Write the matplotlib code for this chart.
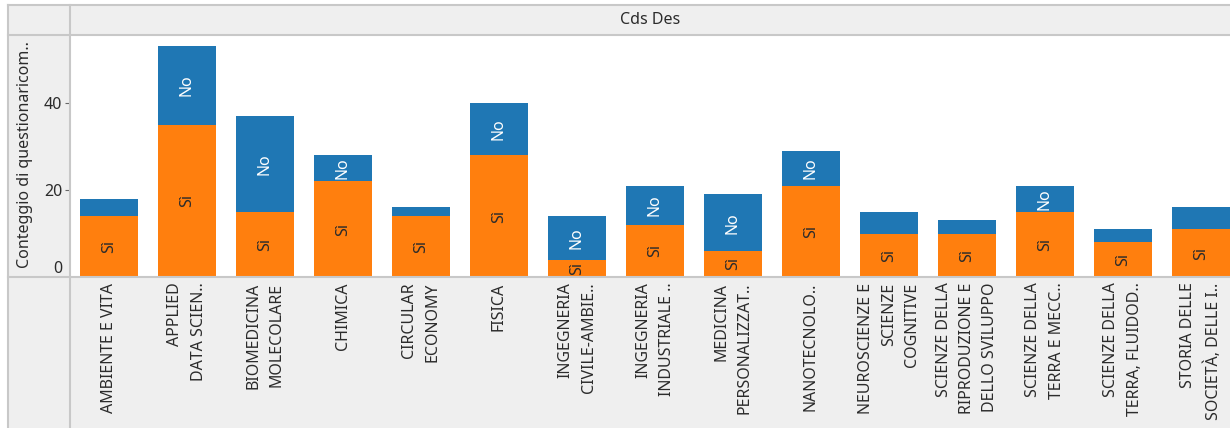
import matplotlib
matplotlib.use('Agg')
import matplotlib.pyplot as plt
from matplotlib.patches import Rectangle
from matplotlib.lines import Line2D

# dati: conteggio questionari per corso di studi, diviso tra Sì e No
corsi = [
    "AMBIENTE E VITA",
    "APPLIED\nDATA SCIEN..",
    "BIOMEDICINA\nMOLECOLARE",
    "CHIMICA",
    "CIRCULAR\nECONOMY",
    "FISICA",
    "INGEGNERIA\nCIVILE-AMBIE..",
    "INGEGNERIA\nINDUSTRIALE ..",
    "MEDICINA\nPERSONALIZZAT..",
    "NANOTECNOLO..",
    "NEUROSCIENZE E\nSCIENZE\nCOGNITIVE",
    "SCIENZE DELLA\nRIPRODUZIONE E\nDELLO SVILUPPO",
    "SCIENZE DELLA\nTERRA E MECC..",
    "SCIENZE DELLA\nTERRA, FLUIDOD..",
    "STORIA DELLE\nSOCIETÀ, DELLE I..",
]
si = [14, 35, 15, 22, 14, 28, 4, 12, 6, 21, 10, 10, 15, 8, 11]
no = [4, 18, 22, 6, 2, 12, 10, 9, 13, 8, 5, 3, 6, 3, 5]

# colori stile Tableau
col_si = '#ff7f0e'
col_no = '#1f77b4'
grigio = '#efefef'
linea = '#c8c8c8'
testo = '#2b2b2b'
fs = 11.5

W, H = 1230, 428
plt.rcParams['font.family'] = ['Noto Sans', 'DejaVu Sans']
fig = plt.figure(figsize=(W / 100, H / 100), dpi=100)
fig.patch.set_facecolor('white')

# conversione da pixel (origine in alto a sinistra) a frazioni di figura
def fx(x):
    return x / W

def fy(y):
    return 1 - y / H

def riquadro(x0, y0, x1, y1, colore):
    fig.patches.append(Rectangle((fx(x0), fy(y1)), fx(x1) - fx(x0), fy(y0) - fy(y1),
                                 transform=fig.transFigure, facecolor=colore,
                                 edgecolor='none', zorder=-1))

riquadro(8, 5, W, 35, grigio)      # intestazione
riquadro(8, 35, 70, H, grigio)     # colonna asse y
riquadro(70, 277, W, H, grigio)    # fascia etichette x

ax = fig.add_axes([fx(70), fy(277), fx(W) - fx(70), fy(35) - fy(277)])
ax.set_facecolor('white')
for s in ax.spines.values():
    s.set_visible(False)

larghezza = 58 / 78
x = list(range(len(corsi)))
barre_si = ax.bar(x, si, width=larghezza, color=col_si, zorder=2)
barre_no = ax.bar(x, no, width=larghezza, bottom=si, color=col_no, zorder=2)

# etichette dentro i segmenti, tagliate sul bordo della barra
for barre, valori, nome, colore, minimo in [(barre_si, si, 'Sì', testo, 4),
                                            (barre_no, no, 'No', 'white', 6)]:
    for b, v in zip(barre, valori):
        if v < minimo:
            continue
        t = ax.text(b.get_x() + b.get_width() / 2, b.get_y() + v / 2, nome,
                    rotation=90, ha='center', va='center', color=colore,
                    fontsize=fs, zorder=3)
        t.set_clip_path(b)

ax.set_xlim(-0.5, -0.5 + 1160 / 78)
ax.set_ylim(0, (277 - 35) / 4.35)

ax.set_yticks([0, 20, 40])
ax.tick_params(axis='y', length=3.6, width=0.8, color='#666666', pad=2,
               labelsize=fs, labelcolor=testo)
zero = ax.yaxis.get_major_ticks()[0]
zero.tick1line.set_visible(False)
zero.label1.set_va('bottom')

ax.set_xticks(x)
ax.set_xticklabels(corsi, rotation=90, ha='center', va='top',
                   multialignment='right', linespacing=1.6)
ax.tick_params(axis='x', length=0, pad=4, labelsize=fs, labelcolor=testo)

fig.text(fx(25), fy(155), 'Conteggio di questionaricom..', rotation=90,
         ha='center', va='center', fontsize=fs, color=testo)
fig.text(fx(650), fy(20), 'Cds Des', ha='center', va='center',
         fontsize=fs, color=testo)

# griglia grigia della tabella
def riga(x0, y0, x1, y1):
    fig.lines.append(Line2D([fx(x0), fx(x1)], [fy(y0), fy(y1)],
                            transform=fig.transFigure, color=linea,
                            linewidth=1.5, zorder=5))

riga(8, 5, W, 5)
riga(8, 35, W, 35)
riga(8, 277, W, 277)
riga(8, 5, 8, H)
riga(70, 5, 70, H)

fig.savefig('out.png', dpi=100)
